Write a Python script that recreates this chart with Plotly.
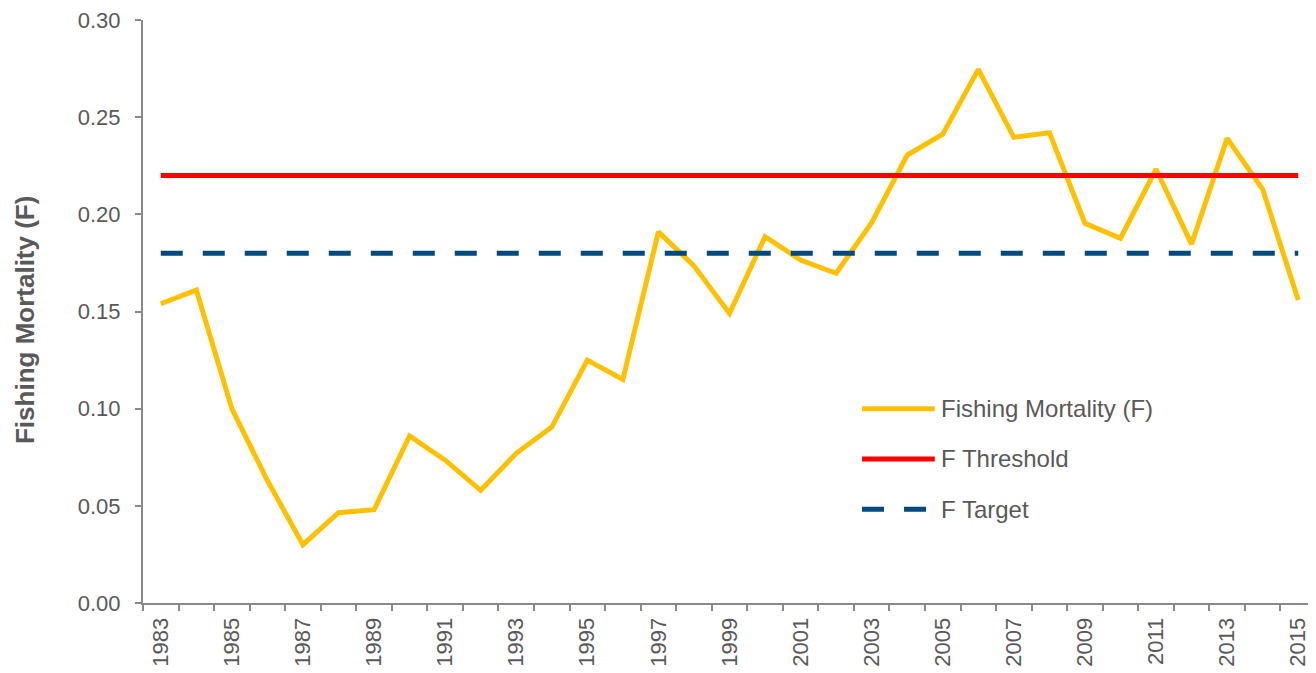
import plotly.graph_objects as go

years = list(range(1983, 2016))
fishing_mortality = [0.154, 0.161, 0.100, 0.063, 0.030, 0.0465, 0.048, 0.086, 0.0735, 0.058,
                     0.077, 0.0905, 0.125, 0.115, 0.191, 0.1735, 0.149, 0.1885, 0.1765, 0.1697,
                     0.1957, 0.2305, 0.2412, 0.2746, 0.2396, 0.2420, 0.1954, 0.1877, 0.2232,
                     0.1847, 0.2391, 0.2129, 0.1559]
F_THRESHOLD = 0.22
F_TARGET = 0.18
tick_years = list(range(1983, 2016, 2))
series_names = ["Fishing Mortality (F)", "F Threshold", "F Target"]
y_title = "Fishing Mortality (F)"

YELLOW = "#FFC000"
RED = "#FF0000"
BLUE = "#004A80"
GREY_TXT = "#595959"
AXIS = "#898989"
FONT = "Liberation Sans, Arial, sans-serif"
DASH = "22px,20px"

fig = go.Figure()
fig.add_trace(go.Scatter(x=years, y=fishing_mortality, mode="lines", name=series_names[0],
                         line=dict(color=YELLOW, width=5), showlegend=False))
fig.add_trace(go.Scatter(x=[years[0], years[-1]], y=[F_THRESHOLD, F_THRESHOLD], mode="lines",
                         name=series_names[1], line=dict(color=RED, width=5), showlegend=False))
fig.add_trace(go.Scatter(x=[years[0], years[-1]], y=[F_TARGET, F_TARGET], mode="lines",
                         name=series_names[2], line=dict(color=BLUE, width=5, dash=DASH),
                         showlegend=False))

# manual legend (long line samples like the original)
legend_rows = [(series_names[0], YELLOW, "solid"), (series_names[1], RED, "solid"),
               (series_names[2], BLUE, DASH)]
ly = [0.333, 0.247, 0.161]
for (name, col, dash), yy in zip(legend_rows, ly):
    fig.add_trace(go.Scatter(x=[0.613, 0.675], y=[yy, yy], xaxis="x2", yaxis="y2", mode="lines",
                             line=dict(color=col, width=5, dash=dash), showlegend=False,
                             hoverinfo="skip"))
    fig.add_annotation(x=0.679, y=yy, xref="paper", yref="paper", text=name, showarrow=False,
                       xanchor="left", yanchor="middle", font=dict(size=24, color=GREY_TXT, family=FONT))

# y-axis title
fig.add_annotation(x=-0.1006, y=0.4854, xref="paper", yref="paper", text="<b>" + y_title + "</b>",
                   textangle=-90, showarrow=False, xanchor="center", yanchor="middle",
                   font=dict(size=26, color=GREY_TXT, family=FONT))

fig.update_layout(
    width=1308, height=665,
    margin=dict(l=135, r=0, t=12, b=70),
    paper_bgcolor="white", plot_bgcolor="white",
    font=dict(family=FONT, color=GREY_TXT, size=22),
    showlegend=False,
    xaxis=dict(range=[1982.5, 2015.5], tickmode="array", tickvals=tick_years,
               ticktext=[str(y) for y in tick_years], tickangle=-90, ticks="",
               ticklabelstandoff=4, ticklabeloverflow="allow",
               showgrid=False, zeroline=False, showline=True, linecolor=AXIS, linewidth=2,
               tickfont=dict(size=22, color=GREY_TXT),
               minor=dict(ticks="outside", tick0=1982.5, dtick=1, ticklen=6, tickcolor=AXIS,
                          tickwidth=2, showgrid=False)),
    yaxis=dict(range=[0, 0.30], dtick=0.05, tick0=0, tickformat=".2f", ticks="outside",
               ticklen=6, tickcolor=AXIS, tickwidth=2, showgrid=False, zeroline=False,
               ticklabelstandoff=10, ticklabeloverflow="allow",
               showline=True, linecolor=AXIS, linewidth=2, tickfont=dict(size=22, color=GREY_TXT)),
    xaxis2=dict(range=[0, 1], domain=[0, 1], visible=False, overlaying="x"),
    yaxis2=dict(range=[0, 1], domain=[0, 1], visible=False, overlaying="y"),
)

fig.write_html("out.html")
